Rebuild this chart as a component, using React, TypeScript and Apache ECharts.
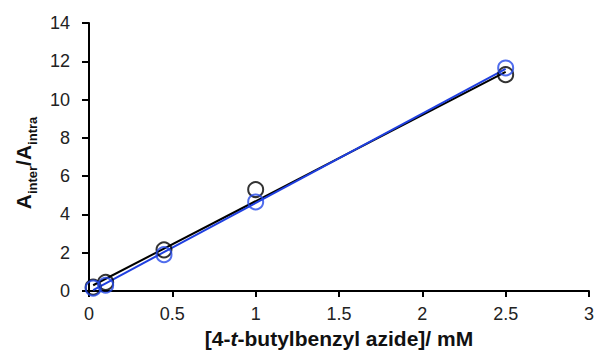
import React, { useEffect, useRef } from "react";
import * as echarts from "echarts";

const concentration = [0.025, 0.1, 0.45, 1.0, 2.5];
const blackValues = [0.2, 0.45, 2.15, 5.3, 11.3];
const blueValues = [0.15, 0.3, 1.9, 4.65, 11.65];
const blackFitX = [0.025, 2.5];
const blackFitY = [0.3, 11.45];
const blueFitX = [0.025, 2.5];
const blueFitY = [0.05, 11.6];

const pairs = (xs: number[], ys: number[]) => xs.map((x, i) => [x, ys[i]]);

export default function App() {
  const ref = useRef<HTMLDivElement>(null);
  useEffect(() => {
    if (!ref.current) return;
    const chart = echarts.init(ref.current, undefined, { renderer: "svg" });
    const font = "Liberation Sans, Arial, sans-serif";
    chart.setOption({
      animation: false,
      backgroundColor: "#fff",
      grid: { left: 89, right: 7, top: 23, bottom: 65 },
      xAxis: {
        type: "value",
        min: 0,
        max: 3,
        interval: 0.5,
        splitLine: { show: false },
        axisLine: { show: true, lineStyle: { color: "#000", width: 2 } },
        axisTick: { show: true, length: 6, lineStyle: { color: "#000", width: 2 } },
        axisLabel: { color: "#222", fontSize: 18, fontFamily: font, margin: 14 },
        name: "{b|[4-}{i|t}{b|-butylbenzyl azide]/ mM}",
        nameLocation: "middle",
        nameGap: 34,
        nameTextStyle: {
          rich: {
            b: { fontSize: 21, fontWeight: "bold", fontFamily: font, color: "#111" },
            i: { fontSize: 21, fontWeight: "bold", fontStyle: "italic", fontFamily: font, color: "#111" },
          },
        },
      },
      yAxis: {
        type: "value",
        min: 0,
        max: 14,
        interval: 2,
        splitLine: { show: false },
        axisLine: { show: true, lineStyle: { color: "#000", width: 2 } },
        axisTick: { show: true, length: 7, lineStyle: { color: "#000", width: 2 } },
        axisLabel: { color: "#222", fontSize: 18, fontFamily: font, margin: 19 },
        name: "{a|A}{s|inter}{a|/A}{s|intra}",
        nameLocation: "middle",
        nameRotate: 90,
        nameGap: 50,
        nameTextStyle: {
          padding: [0, 12, 0, 0],
          rich: {
            a: { fontSize: 21, fontWeight: "bold", fontFamily: font, color: "#111", verticalAlign: "bottom" },
            s: { fontSize: 13, fontWeight: "bold", fontFamily: font, color: "#111", verticalAlign: "bottom", padding: [0, 0, -5, 0] },
          },
        },
      },
      series: [
        {
          type: "line",
          data: pairs(blackFitX, blackFitY),
          symbol: "none",
          lineStyle: { color: "#000", width: 2 },
          z: 2,
        },
        {
          type: "line",
          data: pairs(blueFitX, blueFitY),
          symbol: "none",
          lineStyle: { color: "#1f3fe0", width: 2 },
          z: 3,
        },
        {
          type: "scatter",
          data: pairs(concentration, blackValues),
          symbol: "circle",
          symbolSize: 15,
          itemStyle: { color: "rgba(0,0,0,0)", borderColor: "#000", borderWidth: 2 },
          z: 4,
        },
        {
          type: "scatter",
          data: pairs(concentration, blueValues),
          symbol: "circle",
          symbolSize: 15,
          itemStyle: { color: "rgba(0,0,0,0)", borderColor: "#2448e8", borderWidth: 2 },
          z: 5,
        },
      ],
    });
    return () => chart.dispose();
  }, []);
  return <div ref={ref} style={{ width: 597, height: 356, position: "absolute", left: 0, top: 0 }} />;
}
